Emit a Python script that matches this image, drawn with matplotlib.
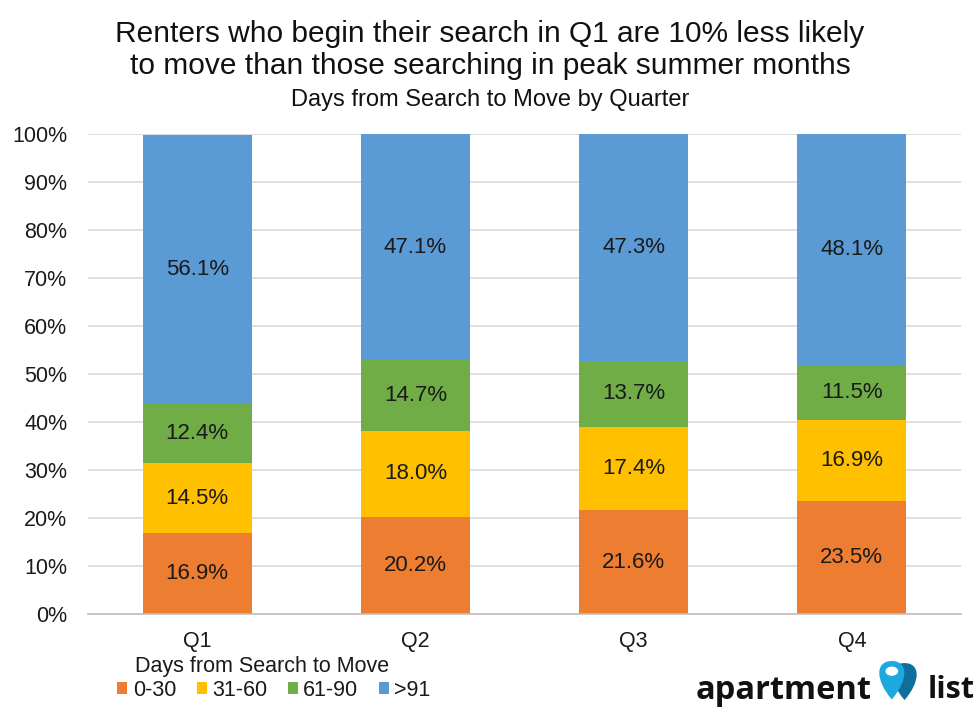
import matplotlib.pyplot as plt
import numpy as np
from matplotlib.path import Path as MPath
from matplotlib.patches import PathPatch

plt.rcParams['font.family'] = ['Liberation Sans', 'DejaVu Sans']

quarters = ['Q1', 'Q2', 'Q3', 'Q4']
bins = ['0-30', '31-60', '61-90', '>91']
share_0_30 = [16.9, 20.2, 21.6, 23.5]
share_31_60 = [14.5, 18.0, 17.4, 16.9]
share_61_90 = [12.4, 14.7, 13.7, 11.5]
share_91 = [56.1, 47.1, 47.3, 48.1]
colors = ['#ED7D31', '#FFC000', '#70AD47', '#5B9BD5']

series = [share_0_30, share_31_60, share_61_90, share_91]


def pin_path(cx, cy, w, h):
    # teardrop map pin, tip at the bottom
    return MPath([(cx, cy - h * 0.55), (cx - w * 0.55, cy - h * 0.05),
                  (cx - w * 0.55, cy + h * 0.45), (cx, cy + h * 0.45),
                  (cx + w * 0.55, cy + h * 0.45), (cx + w * 0.55, cy - h * 0.05),
                  (cx, cy - h * 0.55)],
                 [MPath.MOVETO, MPath.CURVE4, MPath.CURVE4, MPath.CURVE4,
                  MPath.CURVE4, MPath.CURVE4, MPath.CURVE4])


fig = plt.figure(figsize=(9.8, 7.11), dpi=100)
ax = fig.add_axes([0.0898, 0.1364, 0.8908, 0.6751])

x = np.arange(len(quarters))
bottom = np.zeros(len(quarters))
for vals, col, lab in zip(series, colors, bins):
    vals = np.array(vals)
    ax.bar(x, vals, 0.5, bottom=bottom, color=col, label=lab, zorder=2)
    for xi, b, v in zip(x, bottom, vals):
        ax.text(xi, b + v / 2, f'{v:.1f}%', ha='center', va='center',
                fontsize=16, color='#1a1a1a', zorder=3)
    bottom += vals

ax.set_xlim(-0.5, 3.5)
ax.set_ylim(0, 100)
ax.set_yticks(np.arange(0, 101, 10))
ax.set_yticklabels([f'{v}%' for v in range(0, 101, 10)])
ax.set_xticks(x)
ax.set_xticklabels(quarters)
ax.tick_params(axis='both', length=0, labelsize=15.5, colors='#1a1a1a')
ax.tick_params(axis='y', pad=15)
ax.tick_params(axis='x', pad=12)
ax.grid(axis='y', color='#D9D9D9', linewidth=1.2, zorder=0)
for s in ['top', 'right', 'left']:
    ax.spines[s].set_visible(False)
ax.spines['bottom'].set_color('#BFBFBF')
ax.spines['bottom'].set_linewidth(1.2)

fig.text(0.500, 0.930, 'Renters who begin their search in Q1 are 10% less likely\n'
         'to move than those searching in peak summer months',
         ha='center', va='center', fontsize=21.5, linespacing=1.17, color='#111111')
fig.text(0.500, 0.859, 'Days from Search to Move by Quarter',
         ha='center', va='center', fontsize=17, color='#111111')

# legend
fig.text(0.138, 0.063, 'Days from Search to Move', ha='left', va='center',
         fontsize=15.5, color='#1a1a1a')
fig.legend(loc='center left', bbox_to_anchor=(0.100, 0.029), ncol=4,
           frameon=False, fontsize=15.5, handlelength=0.47, handleheight=0.47,
           handletextpad=0.25, columnspacing=0.95, labelcolor='#1a1a1a')

# logo
fig.text(0.889, 0.029, 'apartment', ha='right', va='center', fontsize=23.5,
         fontweight='bold', family='Open Sans', color='#111111')
fig.text(0.947, 0.029, 'list', ha='left', va='center', fontsize=22,
         fontweight='bold', family='Open Sans', color='#111111')
cx, cy = 0.910, 0.046
fig.patches.append(PathPatch(pin_path(cx + 0.013, cy - 0.002, 0.030, 0.052),
                             transform=fig.transFigure, facecolor='#0F6E9B',
                             edgecolor='none'))
fig.patches.append(PathPatch(pin_path(cx, cy, 0.031, 0.054),
                             transform=fig.transFigure, facecolor='#1EA8E0',
                             edgecolor='none'))
fig.patches.append(plt.Circle((cx, cy + 0.010), 0.0065, transform=fig.transFigure,
                              facecolor='white', edgecolor='none'))

fig.savefig('out.png', dpi=100)
